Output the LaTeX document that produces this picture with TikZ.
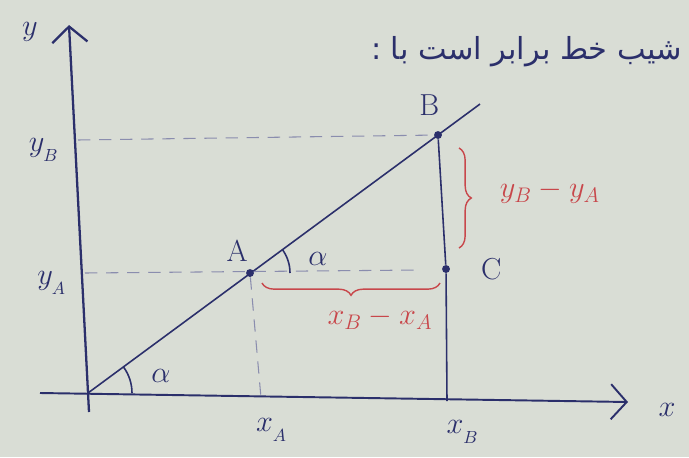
\documentclass[tikz,border=0pt]{standalone}
\usepackage{fontspec}
\newfontfamily\arabicfont[Script=Arabic]{DejaVu Sans}
\TeXXeTstate=1
\usepackage{xcolor}
\definecolor{ink}{HTML}{2B2F6B}
\definecolor{redink}{HTML}{C8474B}
\definecolor{paper}{HTML}{D9DDD5}
\usepackage{tikz}
\usetikzlibrary{arrows.meta,positioning,calc,decorations.pathreplacing}

\tikzset{
  dot/.style={circle,fill=ink,inner sep=0pt,minimum size=4.5pt},
  guide/.style={ink!55,dashed,dash pattern=on 7pt off 5pt,line width=0.6pt},
  lbl/.style={ink,font=\LARGE},
  redlbl/.style={redink,font=\LARGE},
  redbrace/.style={redink,line width=0.8pt,decorate,decoration={brace,amplitude=7pt}}
}

\begin{document}
\begin{tikzpicture}[x=0.02cm,y=-0.02cm,>={Straight Barb[length=9pt,width=20pt]}]
    \fill[paper] (0,0) rectangle (689,457);
    \useasboundingbox (0,0) rectangle (689,457);
    % axes
    \coordinate (O) at (88,393);
    \coordinate (ytip) at (69,25);
    \coordinate (xtip) at (628,402);
    \draw[->,ink,line width=1.3pt] (89,412) -- (ytip);
    \draw[->,ink,line width=1.1pt] (40,393) -- (xtip);
    \node[lbl] (ylab) at (30,32) {$y$};
    \node[lbl] (xlab) at (667,410) {$x$};
    % points on the line
    \node[dot] (A) at (250,273) {};
    \node[dot] (B) at (438,135) {};
    \node[dot] (C) at (446,269) {};
    \node[lbl,above left=1pt and -4pt of A] (Alab) {A};
    \node[lbl,above left=6pt and -6pt of B] (Blab) {B};
    \node[lbl,right=14pt of C] (Clab) {C};
    \draw[ink,line width=0.9pt] (O) -- ($(O)!1.12!(B)$);
    % projections
    \coordinate (yB) at (78,140);
    \coordinate (yA) at (85,273);
    \coordinate (xA) at (261,398);
    \coordinate (xB) at (447,401);
    \draw[guide] (yB) -- (B);
    \draw[guide] (yA) -- (420,270);
    \draw[guide] (A) -- (xA);
    \draw[ink,line width=0.9pt] (B) -- (C) -- (xB);
    \node[lbl] (yBlab) at (44,150) {$y_{_B}$};
    \node[lbl] (yAlab) at (52,283) {$y_{_A}$};
    \node[lbl] (xAlab) at (272,430) {$x_{_A}$};
    \node[lbl] (xBlab) at (463,432) {$x_{_B}$};
    % angles
    \draw[ink,line width=0.9pt] ($(O)+(44,0)$) arc[start angle=0,end angle=36,radius=0.88cm];
    \node[lbl] (alpha1) at (161,376) {$\alpha$};
    \draw[ink,line width=0.9pt] ($(A)+(40,0)$) arc[start angle=0,end angle=36,radius=0.8cm];
    \node[lbl] (alpha2) at (318,259) {$\alpha$};
    % differences
    \draw[redbrace] (459,148) -- (459,248);
    \node[redlbl] (dy) at (550,192) {$y_B - y_A$};
    \draw[redbrace] (440,283) -- (262,283);
    \node[redlbl] (dx) at (380,318) {$x_B - x_A$};
    % heading
    \node[ink,font=\arabicfont\LARGE,anchor=east] (head) at (688,52) {\beginR شیب خط برابر است با :\endR};
\end{tikzpicture}
\end{document}
